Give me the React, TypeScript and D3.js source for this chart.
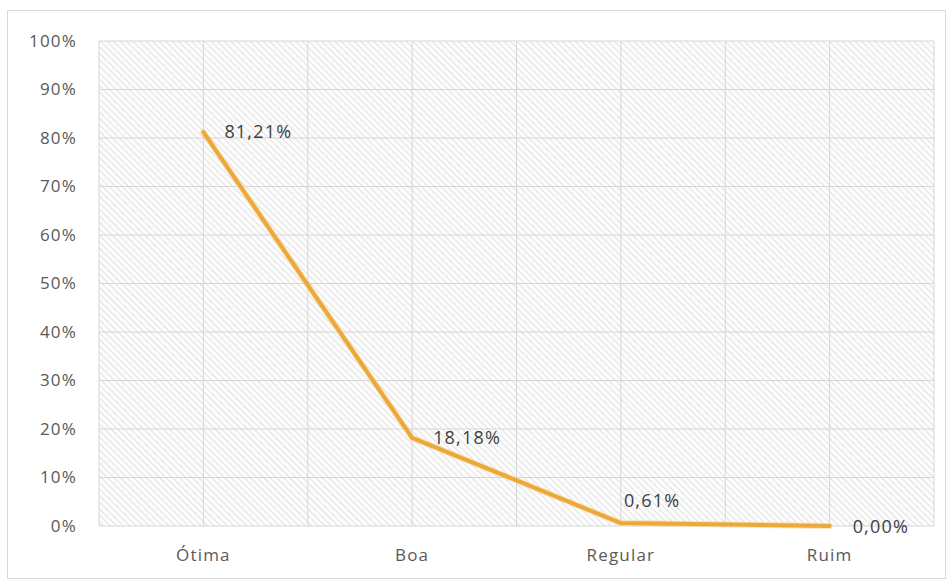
import React from "react";
import * as d3 from "d3";

const categories = ["Ótima", "Boa", "Regular", "Ruim"];
const values = [0.8121, 0.1818, 0.0061, 0.0];
const valueLabels = ["81,21%", "18,18%", "0,61%", "0,00%"];
const yTicks = [0, 0.1, 0.2, 0.3, 0.4, 0.5, 0.6, 0.7, 0.8, 0.9, 1.0];

const W = 948;
const H = 581;
const plot = { left: 99, right: 934, top: 41, bottom: 526 };

export default function App() {
  const x = d3.scaleBand<string>().domain(categories).range([plot.left, plot.right]);
  const y = d3.scaleLinear().domain([0, 1]).range([plot.bottom, plot.top]);
  const cx = (c: string) => (x(c) as number) + x.bandwidth() / 2;
  const pts: [number, number][] = categories.map((c, i) => [cx(c), y(values[i])]);
  const line = d3.line<[number, number]>()(pts) as string;
  const vLines: number[] = [];
  categories.forEach((c) => {
    vLines.push(x(c) as number);
    vLines.push(cx(c));
  });
  vLines.push(plot.right);
  const font = "'Open Sans', 'Liberation Sans', sans-serif";
  const labelPos = (i: number) => {
    const [px, py] = pts[i];
    if (i === 2) return { x: px + 3, y: py - 22 };
    if (i === 3) return { x: px + 23, y: py + 1 };
    return { x: px + 21, y: py };
  };
  return (
    <svg width={W} height={H} style={{ position: "absolute", left: 0, top: 0 }}>
      <defs>
        <pattern id="hatch" width={4.6} height={4.6} patternUnits="userSpaceOnUse" patternTransform="rotate(-45)">
          <rect width={4.6} height={4.6} fill="#fcfcfc" />
          <line x1={0} y1={0} x2={0} y2={4.6} stroke="#d2d2d2" strokeWidth={1.2} />
        </pattern>
      </defs>
      <rect x={0} y={0} width={W} height={H} fill="#fff" />
      <rect x={7.5} y={10.5} width={938} height={568} fill="#fff" stroke="#d9d9d9" strokeWidth={1} />
      <rect x={plot.left} y={plot.top} width={plot.right - plot.left} height={plot.bottom - plot.top} fill="url(#hatch)" />
      {yTicks.map((t) => (
        <line key={"h" + t} x1={plot.left} x2={plot.right} y1={y(t)} y2={y(t)} stroke="#d6d6d6" strokeWidth={1} />
      ))}
      {vLines.map((v, i) => (
        <line key={"v" + i} x1={v} x2={v} y1={plot.top} y2={plot.bottom} stroke="#d6d6d6" strokeWidth={1} />
      ))}
      {yTicks.map((t) => (
        <text key={"t" + t} x={77} y={y(t)} dy="0.35em" textAnchor="end" fontFamily={font} fontSize={17} letterSpacing={1.2} fill="#595959">
          {Math.round(t * 100) + "%"}
        </text>
      ))}
      {categories.map((c) => (
        <text key={c} x={cx(c)} y={555} dy="0.35em" textAnchor="middle" fontFamily={font} fontSize={17} letterSpacing={1.2} fill="#595959">
          {c}
        </text>
      ))}
      <path d={line} fill="none" stroke="#f7d08a" strokeWidth={6} strokeLinejoin="round" strokeLinecap="round" opacity={0.6} />
      <path d={line} fill="none" stroke="#eda83a" strokeWidth={4} strokeLinejoin="round" strokeLinecap="round" />
      {valueLabels.map((l, i) => {
        const p = labelPos(i);
        return (
          <text key={l} x={p.x} y={p.y} dy="0.35em" textAnchor="start" fontFamily={font} fontSize={18} letterSpacing={1.2} fill="#404040">
            {l}
          </text>
        );
      })}
    </svg>
  );
}
